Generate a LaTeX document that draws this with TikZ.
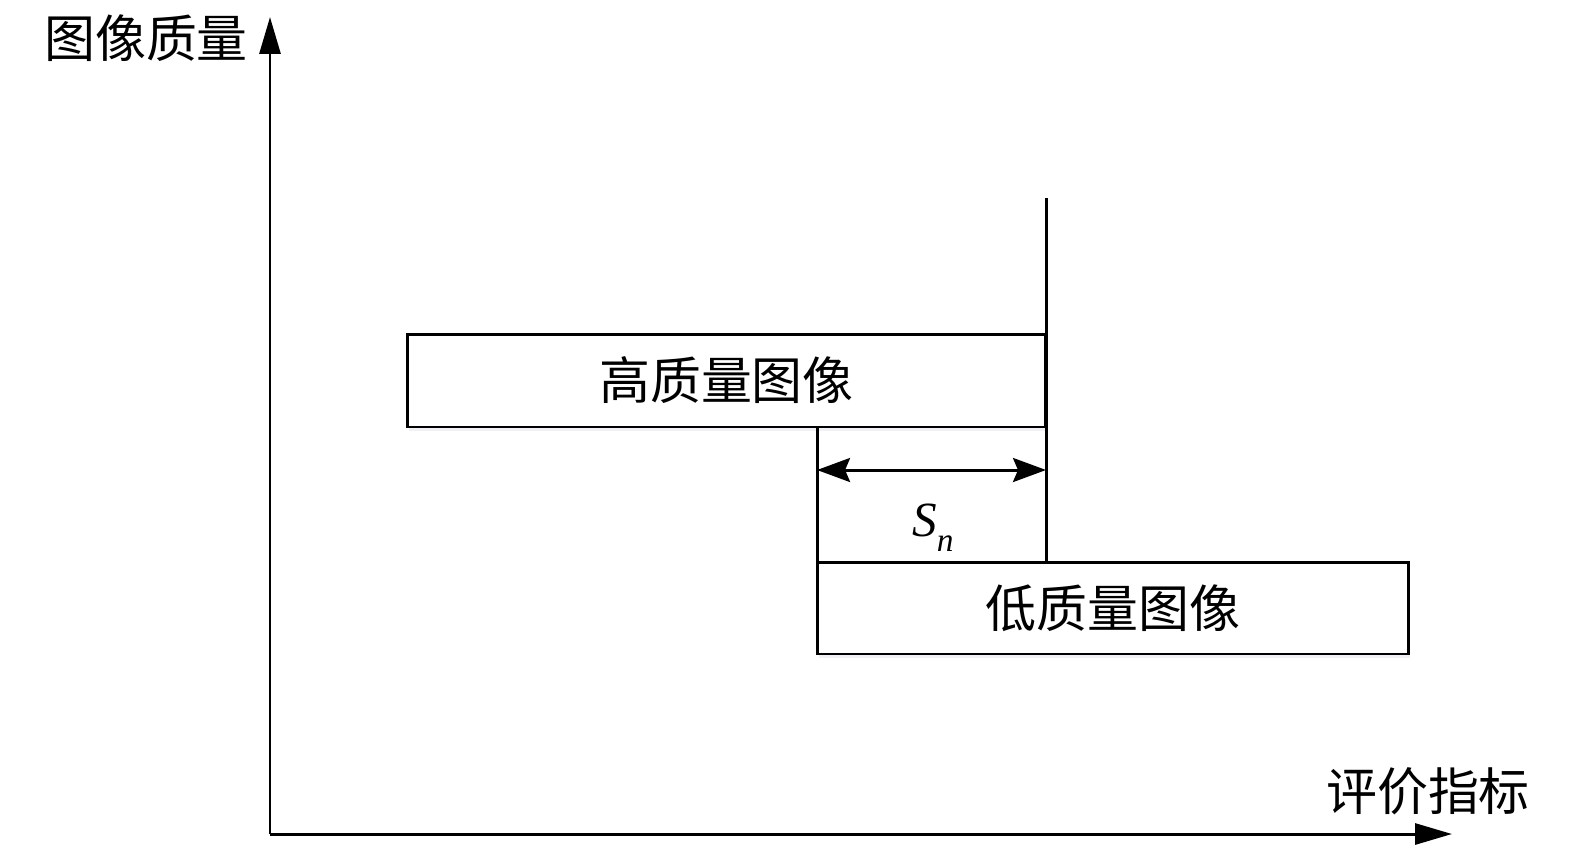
\documentclass[tikz,border=0pt]{standalone}
\usepackage{fontspec}
\newfontfamily\cjk{Noto Sans CJK SC}
\newfontfamily\snfont{Liberation Serif}
\usetikzlibrary{arrows.meta,shadows}
\tikzset{
  axis/.style={line width=1.7pt,-{Triangle[length=0.74cm,width=0.42cm]}},
  qualbox/.style={draw,line width=1.7pt,fill=white,rectangle,inner sep=0pt,outer sep=0pt,
    drop shadow={shadow xshift=0.03cm,shadow yshift=-0.08cm,opacity=0.25,fill=blue!20!gray!40}},
  cjklabel/.style={font=\cjk\fontsize{29}{34}\selectfont,inner sep=0pt}
}
\begin{document}
\begin{tikzpicture}[x=0.02cm,y=-0.02cm]
  \useasboundingbox (0,0) rectangle (1575,846);
  % axes
  \coordinate (o) at (270,834);
  \coordinate (ytip) at (270,17);
  \coordinate (xtip) at (1452,834);
  \draw[axis] (o) -- (ytip);
  \draw[axis] (o) -- (xtip);
  \node[cjklabel] (ylab) at (146,38) {图像质量};
  \node[cjklabel] (xlab) at (1428,791) {评价指标};
  % boxes
  \node[qualbox,minimum width=12.78cm,minimum height=1.86cm] (hi) at (726.5,380.5)
    {\cjk\fontsize{29}{34}\selectfont 高质量图像};
  \node[qualbox,minimum width=11.84cm,minimum height=1.84cm] (lo) at (1113,608)
    {\cjk\fontsize{29}{34}\selectfont 低质量图像};
  % threshold lines
  \coordinate (t) at (1046,198);
  \begin{scope}[line width=1.7pt]
    \draw (t) -- (t |- lo.north);
    \draw (lo.north west) -- (lo.north west |- hi.south);
    \draw[{Stealth[length=0.66cm,width=0.48cm,inset=0.1cm]}-{Stealth[length=0.66cm,width=0.48cm,inset=0.1cm]}]
      (lo.north west |- 0,470) -- (t |- 0,470);
  \end{scope}
  \node[font=\snfont\itshape\fontsize{28}{32}\selectfont] (sn) at (933,528)
    {S\raisebox{-0.3em}{\fontsize{19}{22}\selectfont n}};
\end{tikzpicture}
\end{document}
